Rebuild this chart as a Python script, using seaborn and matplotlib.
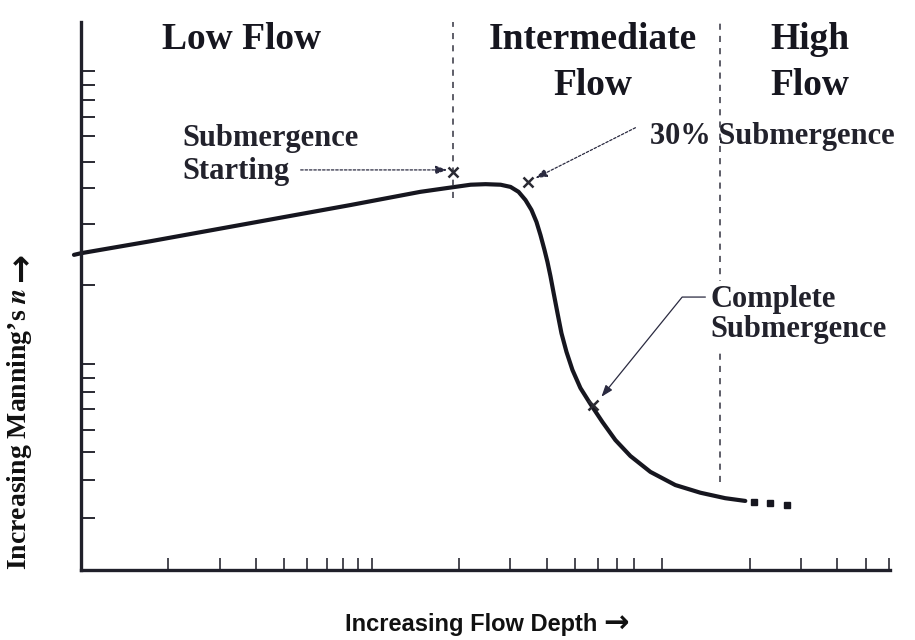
import numpy as np
import pandas as pd
import matplotlib
matplotlib.use('Agg')
import matplotlib.pyplot as plt
from matplotlib.ticker import FixedLocator, NullLocator, NullFormatter
import seaborn as sns

# curve: depth on a log axis, Manning's n in arbitrary units (0-10)
depth = [0.946, 1.0, 1.74, 3.84, 8.47, 14.7, 18.2, 21.9, 24.65, 27.76, 30.04, 32.01, 33.82,
         35.46, 36.90, 38.09, 39.31, 40.25, 41.22, 42.21, 43.57, 44.97, 46.79, 49.06, 52.26,
         56.56, 62.21, 68.95, 77.63, 90.96, 110.8, 135.1, 164.6, 192.9]
manning_n = [5.75, 5.78, 6.00, 6.33, 6.66, 6.90, 6.97, 7.03, 7.04, 7.03, 6.99, 6.90, 6.75,
             6.57, 6.35, 6.11, 5.84, 5.62, 5.36, 5.07, 4.69, 4.32, 3.98, 3.65, 3.32,
             3.03, 2.70, 2.37, 2.08, 1.79, 1.55, 1.41, 1.31, 1.26]

# dotted continuation of the curve
tail_depth = [206, 235, 269]
tail_n = [1.24, 1.22, 1.19]

# the three "x" points (submergence starting, 30 %, complete)
mark_depth = [19.1, 34.4, 57.9]
mark_n = [7.26, 7.08, 3.01]

# flow regime boundaries (dashed lines) and how far down they run
bound_depth = [19.1, 158]
bound_low = [6.79, 1.61]

regime_labels = ['Low Flow', 'Intermediate\nFlow', 'High\nFlow']
regime_center = [3.57, 57.5, 322]

x_ticks = [2, 3, 4, 5, 6, 7, 8, 9, 10, 20, 30, 40, 50, 60, 70, 80, 100, 200, 300, 400, 500, 600]
y_ticks = [9.11, 8.85, 8.58, 8.27, 7.92, 7.45, 6.97, 6.31, 5.20,
           3.76, 3.50, 3.25, 2.94, 2.55, 2.15, 1.64, 0.95]

ink = '#16161f'

sns.set_style('white')
plt.rcParams['font.family'] = ['Liberation Serif', 'DejaVu Sans']
plt.rcParams['font.weight'] = 'bold'
plt.rcParams['mathtext.fontset'] = 'stix'

fig = plt.figure(figsize=(9.15, 6.4), dpi=100)
ax = fig.add_axes([0.0885, 0.1094, 0.8842, 0.8563])
ax.set_xscale('log')

df = pd.DataFrame({'depth': depth, 'n': manning_n})
sns.lineplot(data=df, x='depth', y='n', ax=ax, color=ink, lw=3.0, sort=False,
             estimator=None, clip_on=False, solid_capstyle='round', solid_joinstyle='round')
ax.plot(tail_depth, tail_n, ls='none', marker='s', ms=4.5, color=ink)
ax.plot(mark_depth, mark_n, ls='none', marker='x', ms=7, mew=1.8, color='#2a2a33', zorder=5)

ax.vlines(bound_depth, bound_low, 10.0, colors='#333340', lw=1.1, linestyles=(0, (4, 4)),
          clip_on=False)

for lab, xc in zip(regime_labels, regime_center):
    ax.text(xc, 10.0, lab, ha='center', va='top', fontsize=27, color=ink, linespacing=1.4)

# annotations
ax.text(2.24, 8.14, 'Submergence\nStarting', ha='left', va='top', fontsize=22,
        color='#22222c', linespacing=1.2)
ax.annotate('', xy=(18.2, 7.30), xytext=(5.7, 7.30),
            arrowprops=dict(arrowstyle='-|>,head_length=0.7,head_width=0.25', color='#2a2a40',
                            lw=0.9, ls=(0, (2, 1.5)), shrinkA=0, shrinkB=0))

ax.text(90.9, 8.18, '30% Submergence', ha='left', va='top', fontsize=22, color='#22222c')
ax.annotate('', xy=(36.6, 7.15), xytext=(80.8, 8.07),
            arrowprops=dict(arrowstyle='-|>,head_length=0.7,head_width=0.25', color='#2a2a40',
                            lw=0.9, ls=(0, (2, 1.5)), shrinkA=0, shrinkB=0))

ax.text(146, 5.20, 'Complete\nSubmergence', ha='left', va='top', fontsize=22,
        color='#22222c', linespacing=1.05, zorder=6,
        bbox=dict(fc='white', ec='none', pad=3))
ax.annotate('', xy=(61.7, 3.16), xytext=(140.6, 4.98),
            arrowprops=dict(arrowstyle='-|>,head_length=0.7,head_width=0.25', color='#2a2a40',
                            lw=0.9, shrinkA=0, shrinkB=0,
                            connectionstyle='angle,angleA=0,angleB=51,rad=0'))

ax.set_xlim(1, 607)
ax.set_ylim(0, 10)

ax.xaxis.set_major_locator(FixedLocator(x_ticks))
ax.xaxis.set_minor_locator(NullLocator())
ax.xaxis.set_major_formatter(NullFormatter())
ax.set_yticks(y_ticks)
ax.set_yticklabels([])
ax.tick_params(axis='x', direction='in', length=9, width=1.2, color='#2a2a33', bottom=True)
ax.tick_params(axis='y', direction='in', length=10, width=1.4, color='#2a2a33', left=True)
ax.set_xlabel('')
ax.set_ylabel('')

sns.despine(ax=ax)
for side in ['left', 'bottom']:
    ax.spines[side].set_linewidth(2.4)
    ax.spines[side].set_color('#20202a')

W, H = 915.0, 640.0

# axis titles; the arrows come from DejaVu Sans Bold, set right after the words
ylab = fig.text(20 / W, 1 - 570 / H, 'Increasing Manning\u2019s $\\mathbfit{n}$', rotation=90,
                ha='center', va='bottom', fontsize=20, color='#111111')
xlab = fig.text(345 / W, 1 - 625 / H, 'Increasing Flow Depth',
                family=['Liberation Sans', 'DejaVu Sans'], weight='bold', fontsize=17,
                ha='left', va='center', color='#111111')
fig.canvas.draw()
rend = fig.canvas.get_renderer()
yb = ylab.get_window_extent(rend)
xb = xlab.get_window_extent(rend)
fig.text(21 / W, (yb.y1 + 6) / H, '\u2192', rotation=90, family='DejaVu Sans', weight='bold',
         fontsize=25, ha='center', va='bottom', color='#111111')
fig.text((xb.x1 + 6) / W, 1 - 624 / H, '\u2192', family='DejaVu Sans', weight='bold',
         fontsize=22, ha='left', va='center', color='#111111')

fig.savefig('out.png', dpi=100, facecolor='white')
